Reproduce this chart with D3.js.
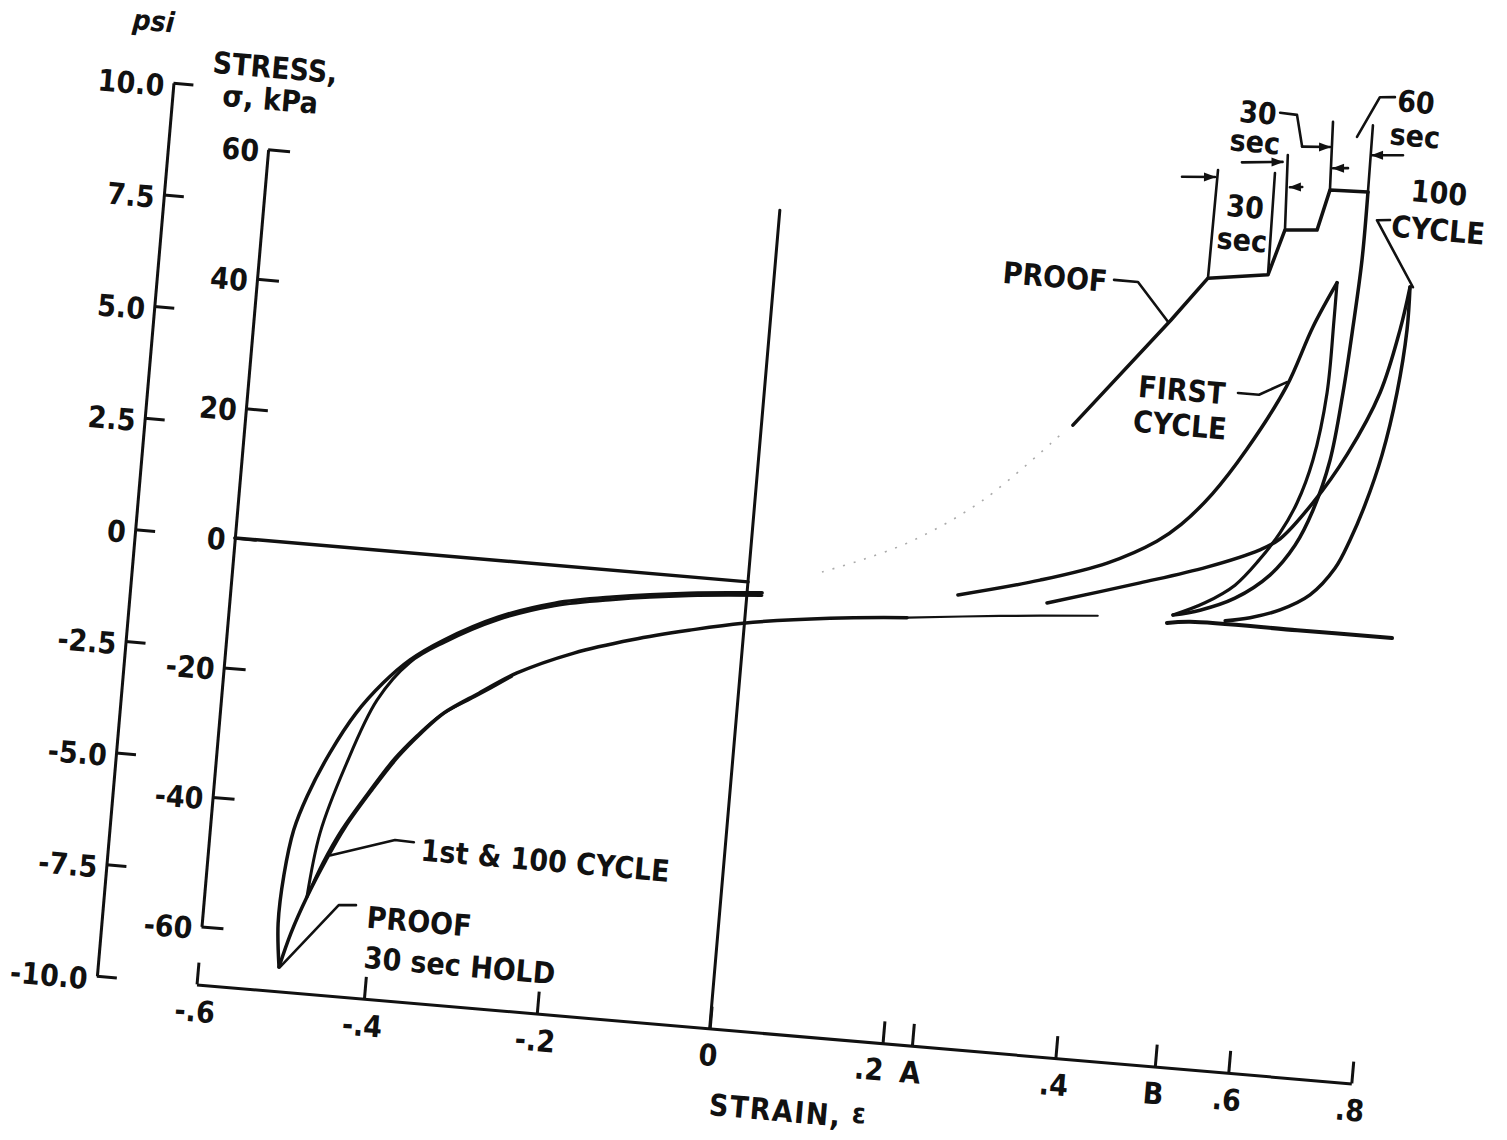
<!DOCTYPE html>
<html><head><meta charset="utf-8">
<script src="https://cdn.jsdelivr.net/npm/d3@7"></script>
<style>
html,body{margin:0;padding:0;background:#fff;}
svg{display:block;background:#fff;}
text{font-family:"Liberation Sans Narrow","DejaVu Sans Condensed","Liberation Sans",sans-serif;font-weight:bold;fill:#111;font-size:30px;}
.axis path,.axis line{stroke:#111;stroke-width:3;}
.curve{fill:none;stroke:#111;stroke-width:3.5;stroke-linejoin:round;stroke-linecap:round;}
.ann{fill:none;stroke:#111;stroke-width:2.6;stroke-linecap:round;stroke-linejoin:round;}
</style></head><body>
<svg id="c" width="1507" height="1140"></svg>
<script>
// ---------------- data (strain, stress kPa) ----------------
const strainTicks = [-0.6,-0.4,-0.2,0,0.2,0.4,0.6,0.8];
const strainTickLabels = ["-.6","-.4","-.2","0",".2",".4",".6",".8"];
const strainMarks = [0.234,0.515];
const strainMarkLabels = ["A","B"];
const kpaTicks = [60,40,20,0,-20,-40,-60];
const kpaTickLabels = ["60","40","20","0","-20","-40","-60"];
const psiTicks = [10,7.5,5,2.5,0,-2.5,-5,-7.5,-10];
const psiTickLabels = ["10.0","7.5","5.0","2.5","0","-2.5","-5.0","-7.5","-10.0"];

// compression side
const zeroStrainLine = [[0,-68.95],[0,57.4]];
const zeroStressLine = [[-0.6,0],[0,0]];
const compProofUnload = [[-0.504,-65.2],[-0.5095,-58.5],[-0.5075,-51],[-0.5005,-44],[-0.4879,-38.6],[-0.4654,-31.7],[-0.4386,-25.3],[-0.4095,-20.3],[-0.3805,-16.4],[-0.3434,-12.9],[-0.2837,-8.7],[-0.2196,-5.8],[-0.1535,-4.1],[-0.0666,-2.5],[0.0173,-1.5]];
const compCycleUnload = [[-0.478,-54.1],[-0.4689,-44.1],[-0.4461,-33.7],[-0.4149,-23.0],[-0.3805,-16.8],[-0.3434,-13.3],[-0.2837,-9.1],[-0.2196,-6.2],[-0.1535,-4.5],[-0.0666,-2.9],[0.0173,-1.9]];
const compLoad = [[-0.504,-65.2],[-0.4932,-59.8],[-0.478,-54.1],[-0.4592,-48.2],[-0.4399,-42.9],[-0.4117,-36.8],[-0.3847,-31.4],[-0.3607,-27.5],[-0.3363,-24.1],[-0.298,-20.6],[-0.2563,-17.0],[-0.1929,-13.2],[-0.1275,-10.4],[-0.0631,-8.2],[-0.0017,-6.4],[0.0978,-4.5],[0.1862,-3.4]];
const compCycleLoad = [[-0.478,-54.1],[-0.4625,-48.6],[-0.4435,-43.3],[-0.4155,-37.2],[-0.389,-31.8],[-0.365,-27.9],[-0.34,-24.5],[-0.30,-21.0],[-0.262,-17.6]];
const baselineMid = [[0.1862,-3.4],[0.2928,-1.9],[0.405,-0.6]];
const baselineRight = [[0.4853,-0.8],[0.5116,-0.3],[0.65,-0.2],[0.804,-0.15]];

// tension side
const proofDotted = [[0.084,2.5],[0.1276,4.8],[0.1865,8.6],[0.2618,15.6],[0.344,26.6]];
const proofLoad = [[0.3578,28.3],[0.4601,45.7],[0.4984,52.6],[0.567,53.9],[0.5821,61.0],[0.6266,61.4],[0.6419,67.7],[0.7035,67.9]];
const proofUnload = [[0.7035,67.9],[0.7033,57.4],[0.698,47.0],[0.691,36.8],[0.6794,26.3],[0.6588,18.4],[0.6347,12.8],[0.5988,7.9],[0.5609,3.9],[0.522,1.6],[0.4914,0.5]];
const firstLoad = [[0.2424,0.75],[0.3352,4.1],[0.4107,7.6],[0.4656,11.6],[0.4919,14.5],[0.5247,19.6],[0.5595,26.8],[0.5992,37.0],[0.6334,46.5],[0.6662,53.6]];
const firstUnload = [[0.6662,53.6],[0.6664,47.8],[0.6653,36.6],[0.6518,26.1],[0.632,19.3],[0.6087,14.5],[0.5851,10.1],[0.5597,5.9],[0.5269,2.8],[0.4914,0.5]];
const cycle100Load = [[0.3455,0.7],[0.4504,5.0],[0.5256,8.3],[0.5842,11.6],[0.6097,13.6],[0.6573,19.5],[0.7067,27.5],[0.7508,37.3],[0.7743,47.2],[0.7845,53.9]];
const cycle100Unload = [[0.7845,53.9],[0.7856,47.3],[0.7781,37.5],[0.7626,27.8],[0.742,19.9],[0.7226,14.3],[0.7023,9.8],[0.6657,5.4],[0.6194,2.7],[0.5802,1.1],[0.5519,0.3]];

// ---------------- scales ----------------
const KPA_PER_PSI = 6.894757;
const x = d3.scaleLinear().domain([-0.6,-0.4,0.6,0.8]).range([234,402,1269.5,1393]);
const y = d3.scaleLinear().domain([-60,60]).range([972,192]);
const yPsi = d3.scaleLinear().domain([-10,10]).range([y(-10*KPA_PER_PSI), y(10*KPA_PER_PSI)]);

const svg = d3.select("#c");
svg.append("defs").append("marker")
  .attr("id","arr").attr("viewBox","0 -5 12 10").attr("refX",11).attr("refY",0)
  .attr("markerUnits","userSpaceOnUse").attr("markerWidth",14).attr("markerHeight",10)
  .attr("orient","auto")
  .append("path").attr("d","M0,-4.5L12,0L0,4.5Z").attr("fill","#111");

const g = svg.append("g").attr("transform","rotate(4.9,750,570)");

const straight = d3.line().x(d=>x(d[0])).y(d=>y(d[1]));
const smooth = d3.line().x(d=>x(d[0])).y(d=>y(d[1])).curve(d3.curveCatmullRom.alpha(0.5));

// ---------------- axes ----------------
const psiX = 134, kpaX = x(-0.6);
const gPsi = g.append("g").attr("class","axis").attr("transform",`translate(${psiX},0)`)
  .call(d3.axisRight(yPsi).tickValues(psiTicks).tickSize(20).tickSizeOuter(0)
  .tickFormat((d,i)=>psiTickLabels[i]));
gPsi.attr("font-size",null).attr("font-family",null);
gPsi.selectAll("text").attr("x",-9).attr("y",3).attr("dy","0.35em").style("text-anchor","end");

const gK = g.append("g").attr("class","axis").attr("transform",`translate(${kpaX},0)`)
  .call(d3.axisRight(y).tickValues(kpaTicks).tickSize(22).tickSizeOuter(0)
  .tickFormat((d,i)=>kpaTickLabels[i]));
gK.attr("font-size",null).attr("font-family",null);
gK.selectAll("text").attr("x",-9).attr("y",2).attr("dy","0.35em").style("text-anchor","end");

const xVals = strainTicks.concat(strainMarks);
const xLabs = strainTickLabels.concat(strainMarkLabels);
const xAxisY = yPsi(-10);
const gX = g.append("g").attr("class","axis").attr("transform",`translate(0,${xAxisY})`)
  .call(d3.axisTop(x).tickValues(xVals).tickSize(22).tickSizeOuter(0)
  .tickFormat((d,i)=>xLabs[i]));
gX.attr("font-size",null).attr("font-family",null);
gX.selectAll("text").attr("y",16).attr("dy","0.71em").style("text-anchor","middle")
  .attr("dx",function(){ return d3.select(this).text()===".2" ? -12 : 0; });

// axis titles
g.append("text").attr("x",psiX-25).attr("y",yPsi(10)-60).attr("dy","0.35em")
  .style("text-anchor","middle").style("font-style","italic").style("font-size","28px").text("psi");
g.append("text").attr("x",kpaX).attr("y",y(60)-82).attr("dy","0.35em")
  .style("text-anchor","middle").text("STRESS,");
g.append("text").attr("x",kpaX-2).attr("y",y(60)-50).attr("dy","0.35em")
  .style("text-anchor","middle").text("σ, kPa");
g.append("text").attr("x",x(0)+6).attr("y",xAxisY+76).attr("dy","0.35em")
  .style("text-anchor","start").style("letter-spacing","1.5px").text("STRAIN,");
g.append("text").attr("x",x(0.18)).attr("y",xAxisY+72).attr("dy","0.35em")
  .style("text-anchor","middle").style("font-size","28px").text("ε");

// ---------------- curves ----------------
const lines = [
  [zeroStrainLine, straight, 3],
  [zeroStressLine, straight, 3.5],
  [compProofUnload, smooth, 3.5],
  [compCycleUnload, smooth, 3],
  [compLoad, smooth, 3.5],
  [compCycleLoad, smooth, 2.8],
  [baselineMid, smooth, 2.2],
  [baselineRight, smooth, 4],
  [proofLoad, straight, 3.5],
  [proofUnload, smooth, 3.5],
  [firstLoad, smooth, 3.5],
  [firstUnload, smooth, 3.2],
  [cycle100Load, smooth, 3.5],
  [cycle100Unload, smooth, 3.5]
];
g.append("g").selectAll("path").data(lines).join("path")
  .attr("class","curve").attr("d",d=>d[1](d[0])).style("stroke-width",d=>d[2]);

g.append("path").attr("d",smooth(proofDotted)).attr("fill","none")
  .attr("stroke","#aaa").attr("stroke-width",1.6).attr("stroke-dasharray","2,9");

// ---------------- annotations ----------------
const extLines = [
  [[0.4984,52.6],[0.4993,69.3]],
  [[0.567,53.9],[0.565,69.6]],
  [[0.5821,61.0],[0.578,72.5]],
  [[0.6419,67.7],[0.6374,78.2]],
  [[0.7035,67.9],[0.7023,78.2]]
];
const leaders = [
  [[0.3907,51.1],[0.4184,51.1],[0.4568,45.4]],
  [[0.5442,35.4],[0.5685,35.4],[0.5993,37.7]],
  [[0.743,63.9],[0.7219,63.7],[0.7893,53.9]],
  [[0.7339,82.8],[0.7097,82.6],[0.6782,76.2]],
  [[0.565,78.9],[0.5846,78.8],[0.5936,74.0]],
  [[-0.3581,-44.3],[-0.38,-44.2],[-0.4538,-47.4]],
  [[-0.419,-54.7],[-0.4392,-54.9],[-0.5029,-65.2]]
];
const arrows = [
  [[0.4586,67.8],[0.4965,68.2]],
  [[0.5977,67.8],[0.5836,67.6]],
  [[0.526,70.8],[0.5726,71.4]],
  [[0.668,71.3],[0.6439,71.1]],
  [[0.5936,74.0],[0.6361,74.3]],
  [[0.755,74.0],[0.705,73.6]]
];
g.append("g").selectAll("path").data(extLines.concat(leaders)).join("path")
  .attr("class","ann").attr("d",d=>straight(d));
g.append("g").selectAll("path").data(arrows).join("path")
  .attr("class","ann").attr("d",d=>straight(d)).attr("marker-end","url(#arr)");

const labels = [
  ["PROOF",0.3227,50.8,"middle"],
  ["FIRST",0.4795,35.1,"middle"],
  ["CYCLE",0.4807,29.7,"middle"],
  ["100",0.8183,68.7,"middle"],
  ["CYCLE",0.8219,63.0,"middle"],
  ["30",0.534,64.0,"middle"],
  ["sec",0.5337,58.9,"middle"],
  ["30",0.5396,78.6,"middle"],
  ["sec",0.539,74.1,"middle"],
  ["60",0.7686,82.3,"middle"],
  ["sec",0.7717,77.1,"middle"],
  ["1st & 100 CYCLE",-0.3492,-45.4,"start"],
  ["PROOF",-0.4048,-56.4,"start"],
  ["30 sec HOLD",-0.4042,-62.6,"start"]
];
g.append("g").selectAll("text").data(labels).join("text")
  .attr("x",d=>x(d[1])).attr("y",d=>y(d[2])).attr("dy","0.35em")
  .style("text-anchor",d=>d[3]).text(d=>d[0]);
</script>
</body></html>
